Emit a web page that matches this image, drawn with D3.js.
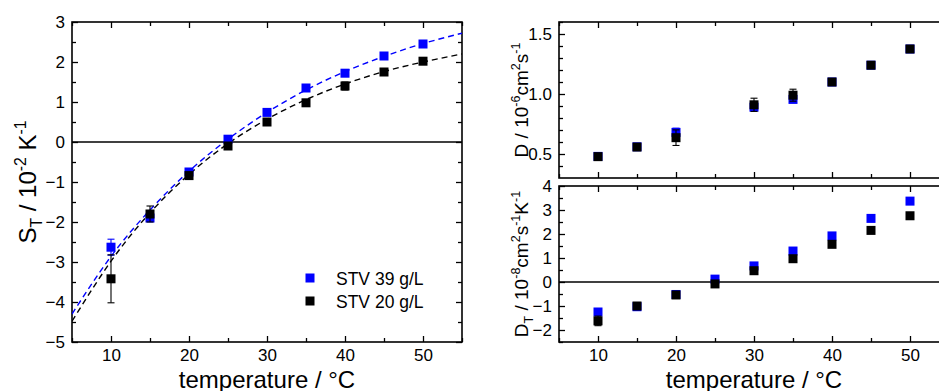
<!DOCTYPE html>
<html>
<head>
<meta charset="utf-8">
<script src="https://cdn.jsdelivr.net/npm/d3@7"></script>
<style>
  body { margin: 0; background: #fff; }
  text { font-family: "Liberation Sans", Arial, sans-serif; fill: #000; }
</style>
</head>
<body>
<div id="chart"></div>
<script>
// data
const temps = [10, 15, 20, 25, 30, 35, 40, 45, 50];
const st39 = [-2.63, -1.90, -0.75, 0.07, 0.74, 1.35, 1.72, 2.15, 2.45];
const st39Err = [0.2, 0.08, 0.05, 0.05, 0.05, 0.05, 0.05, 0.05, 0.05];
const st20 = [-3.42, -1.80, -0.84, -0.10, 0.50, 0.98, 1.40, 1.75, 2.02];
const st20Err = [0.6, 0.2, 0.05, 0.05, 0.05, 0.05, 0.1, 0.05, 0.05];

const fitTemps = [5, 10, 15, 20, 25, 30, 35, 40, 45, 50, 55];
const fit39 = [-4.30, -2.86, -1.70, -0.73, 0.07, 0.74, 1.30, 1.76, 2.14, 2.46, 2.72];
const fit20 = [-4.48, -2.98, -1.77, -0.81, -0.04, 0.57, 1.06, 1.45, 1.76, 2.00, 2.20];

const dTemps = [10, 15, 20, 30, 35, 40, 45, 50];
const d39 = [0.48, 0.56, 0.68, 0.89, 0.955, 1.10, 1.24, 1.375];
const d39Err = [0.02, 0.02, 0.035, 0.02, 0.02, 0.015, 0.015, 0.015];
const d20 = [0.478, 0.558, 0.636, 0.91, 0.99, 1.10, 1.24, 1.375];
const d20Err = [0.02, 0.02, 0.065, 0.055, 0.05, 0.015, 0.015, 0.015];

const dt39 = [-1.25, -1.03, -0.52, 0.12, 0.67, 1.29, 1.92, 2.65, 3.37];
const dt39Err = [0.1, 0.05, 0.05, 0.05, 0.05, 0.05, 0.05, 0.05, 0.05];
const dt20 = [-1.62, -1.00, -0.54, -0.08, 0.47, 0.97, 1.57, 2.15, 2.76];
const dt20Err = [0.2, 0.05, 0.05, 0.05, 0.05, 0.05, 0.05, 0.05, 0.05];

const seriesNames = ["STV 39 g/L", "STV 20 g/L"];
const seriesColors = ["#0000ff", "#000000"];

const W = 939, H = 391;
const svg = d3.select("#chart").append("svg")
  .attr("width", W).attr("height", H);

const tickFont = 17;
const markSize = 9;

// draws frame with inward ticks on every side
function frame(g, x, y, o) {
  const [x0, x1] = x.range();
  const [y1, y0] = y.range();
  const major = 6, minor = 4;

  const xAxB = d3.axisBottom(x).tickValues(o.xMajor).tickSize(-major).tickPadding(7);
  if (!o.xLabels) xAxB.tickFormat("");
  g.append("g").attr("class", "axis").attr("transform", `translate(0,${y1})`).call(xAxB);
  g.append("g").attr("class", "axis").attr("transform", `translate(0,${y1})`)
    .call(d3.axisBottom(x).tickValues(o.xMinor).tickSize(-minor).tickFormat(""));
  g.append("g").attr("class", "axis").attr("transform", `translate(0,${y0})`)
    .call(d3.axisTop(x).tickValues(o.xMajor).tickSize(-major).tickFormat(""));
  g.append("g").attr("class", "axis").attr("transform", `translate(0,${y0})`)
    .call(d3.axisTop(x).tickValues(o.xMinor).tickSize(-minor).tickFormat(""));

  g.append("g").attr("class", "axis").attr("transform", `translate(${x0},0)`)
    .call(d3.axisLeft(y).tickValues(o.yMajor).tickSize(-major).tickPadding(7).tickFormat(o.yFormat));
  g.append("g").attr("class", "axis").attr("transform", `translate(${x0},0)`)
    .call(d3.axisLeft(y).tickValues(o.yMinor).tickSize(-minor).tickFormat(""));
  g.append("g").attr("class", "axis").attr("transform", `translate(${x1},0)`)
    .call(d3.axisRight(y).tickValues(o.yMajor).tickSize(-major).tickFormat(""));
  g.append("g").attr("class", "axis").attr("transform", `translate(${x1},0)`)
    .call(d3.axisRight(y).tickValues(o.yMinor).tickSize(-minor).tickFormat(""));

  g.selectAll(".axis .domain").remove();
  g.selectAll(".axis line").attr("stroke", "#000").attr("stroke-width", 1.3);
  g.selectAll(".axis text").attr("font-size", tickFont)
    .attr("font-family", "Liberation Sans, Arial, sans-serif").attr("fill", "#000");

  g.append("rect")
    .attr("x", x0).attr("y", y0)
    .attr("width", x1 - x0).attr("height", y1 - y0)
    .attr("fill", "none").attr("stroke", "#000").attr("stroke-width", 1.6);
}

function scatter(g, x, y, xs, ys, errs, color) {
  const pts = xs.map((t, i) => ({ t: t, v: ys[i], e: errs[i] }));
  const eb = g.append("g").attr("stroke", color).attr("stroke-width", 1.1);
  pts.forEach(d => {
    const cx = x(d.t);
    eb.append("line").attr("x1", cx).attr("x2", cx)
      .attr("y1", y(d.v - d.e)).attr("y2", y(d.v + d.e));
    [d.v - d.e, d.v + d.e].forEach(v => {
      eb.append("line").attr("x1", cx - 3.5).attr("x2", cx + 3.5)
        .attr("y1", y(v)).attr("y2", y(v));
    });
  });
  g.append("g").selectAll("rect").data(pts).enter().append("rect")
    .attr("x", d => x(d.t) - markSize / 2)
    .attr("y", d => y(d.v) - markSize / 2)
    .attr("width", markSize).attr("height", markSize)
    .attr("fill", color);
}

function zeroLine(g, x, y) {
  g.append("line")
    .attr("x1", x.range()[0]).attr("x2", x.range()[1])
    .attr("y1", y(0)).attr("y2", y(0))
    .attr("stroke", "#000").attr("stroke-width", 1.6);
}

// text with sub/superscripts; parts = [[str, kind]]
function richText(el, parts, size) {
  let shift = 0;
  parts.forEach(([s, kind]) => {
    const target = kind === "sup" ? -0.42 * size : kind === "sub" ? 0.25 * size : 0;
    el.append("tspan")
      .attr("dy", target - shift)
      .attr("font-size", kind === "n" ? size : size * 0.66)
      .text(s);
    shift = target;
  });
}

// LEFT PANEL: S_T
const xL = d3.scaleLinear().domain([5, 55]).range([72, 462]);
const yL = d3.scaleLinear().domain([-5, 3]).range([342, 22]);
const leftPanel = svg.append("g");

leftPanel.append("clipPath").attr("id", "clipL").append("rect")
  .attr("x", 72).attr("y", 22).attr("width", 390).attr("height", 320);

frame(leftPanel, xL, yL, {
  xMajor: [10, 20, 30, 40, 50], xMinor: [5, 15, 25, 35, 45, 55], xLabels: true,
  yMajor: d3.range(-5, 3.01, 1), yMinor: d3.range(-4.5, 3, 1), yFormat: d3.format("d")
});
zeroLine(leftPanel, xL, yL);

const fitLine = d3.line().x(d => xL(d[0])).y(d => yL(d[1])).curve(d3.curveNatural);
[[fit39, seriesColors[0]], [fit20, seriesColors[1]]].forEach(([f, c]) => {
  leftPanel.append("path")
    .attr("clip-path", "url(#clipL)")
    .attr("d", fitLine(fitTemps.map((t, i) => [t, f[i]])))
    .attr("fill", "none").attr("stroke", c)
    .attr("stroke-width", 1.4).attr("stroke-dasharray", "6,4");
});

scatter(leftPanel, xL, yL, temps, st39, st39Err, seriesColors[0]);
scatter(leftPanel, xL, yL, temps, st20, st20Err, seriesColors[1]);

// legend
const legend = leftPanel.append("g").attr("transform", "translate(310,278)");
seriesNames.forEach((name, i) => {
  legend.append("rect")
    .attr("x", -markSize / 2).attr("y", i * 23 - markSize / 2)
    .attr("width", markSize).attr("height", markSize)
    .attr("fill", seriesColors[i]);
  legend.append("text")
    .attr("x", 26).attr("y", i * 23 + 6.5)
    .attr("font-size", 17.5).text(name);
});

const xlabSize = 24;
leftPanel.append("text").attr("x", 267).attr("y", 388)
  .attr("text-anchor", "middle").attr("font-size", xlabSize)
  .text("temperature / °C");

richText(
  leftPanel.append("text").attr("text-anchor", "middle")
    .attr("transform", "translate(36,182) rotate(-90)"),
  [["S", "n"], ["T", "sub"], [" / 10", "n"], ["-2", "sup"], [" K", "n"], ["-1", "sup"]],
  xlabSize
);

// RIGHT TOP: D
const xR = d3.scaleLinear().domain([5, 55]).range([559, 949]);
const yD = d3.scaleLinear().domain([0.3, 1.6]).range([178, 22]);
const topPanel = svg.append("g");
frame(topPanel, xR, yD, {
  xMajor: [10, 20, 30, 40, 50], xMinor: [5, 15, 25, 35, 45, 55], xLabels: false,
  yMajor: [0.5, 1.0, 1.5], yMinor: [0.4, 0.6, 0.7, 0.8, 0.9, 1.1, 1.2, 1.3, 1.4, 1.6],
  yFormat: d3.format(".1f")
});
scatter(topPanel, xR, yD, dTemps, d39, d39Err, seriesColors[0]);
scatter(topPanel, xR, yD, dTemps, d20, d20Err, seriesColors[1]);

const ylabR = 19;
richText(
  topPanel.append("text").attr("text-anchor", "middle")
    .attr("transform", "translate(528,100) rotate(-90)"),
  [["D / 10", "n"], ["-6", "sup"], ["cm", "n"], ["2", "sup"], ["s", "n"], ["-1", "sup"]],
  ylabR
);

// RIGHT BOTTOM: D_T
const yDT = d3.scaleLinear().domain([-2.5, 4]).range([342, 186]);
const botPanel = svg.append("g");
frame(botPanel, xR, yDT, {
  xMajor: [10, 20, 30, 40, 50], xMinor: [5, 15, 25, 35, 45, 55], xLabels: true,
  yMajor: d3.range(-2, 4.01, 1), yMinor: d3.range(-2.5, 4, 1), yFormat: d3.format("d")
});
zeroLine(botPanel, xR, yDT);
scatter(botPanel, xR, yDT, temps, dt39, dt39Err, seriesColors[0]);
scatter(botPanel, xR, yDT, temps, dt20, dt20Err, seriesColors[1]);

richText(
  botPanel.append("text").attr("text-anchor", "middle")
    .attr("transform", "translate(528,264) rotate(-90)"),
  [["D", "n"], ["T", "sub"], [" / 10", "n"], ["-8", "sup"], ["cm", "n"], ["2", "sup"],
   ["s", "n"], ["-1", "sup"], ["K", "n"], ["-1", "sup"]],
  ylabR
);

botPanel.append("text").attr("x", 754).attr("y", 388)
  .attr("text-anchor", "middle").attr("font-size", xlabSize)
  .text("temperature / °C");
</script>
</body>
</html>
